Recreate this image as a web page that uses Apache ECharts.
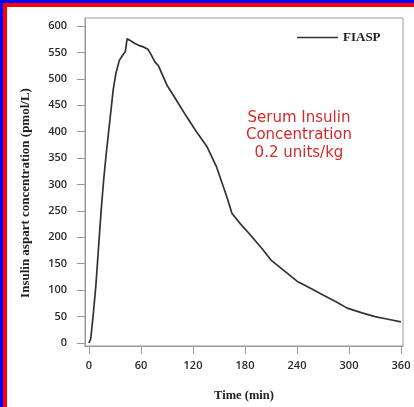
<!DOCTYPE html>
<html>
<head>
<meta charset="utf-8">
<script src="https://cdn.jsdelivr.net/npm/echarts@6/dist/echarts.min.js"></script>
<style>
html,body{margin:0;padding:0;background:#fff;}
#chart{position:absolute;left:0;top:0;width:414px;height:407px;}
.b{position:absolute;pointer-events:none;}
</style>
</head>
<body>
<div id="chart"></div>
<div class="b" style="left:0;top:0;width:414px;height:3px;background:#0000ff"></div>
<div class="b" style="left:0;top:0;width:3px;height:407px;background:#0000ff"></div>
<div class="b" style="left:3px;top:3px;width:411px;height:4px;background:#ff0000"></div>
<div class="b" style="left:3px;top:3px;width:4px;height:404px;background:#ff0000"></div>
<script>
// Data
const seriesName = 'FIASP';
const timeMin = [0, 2, 5, 8, 11, 14, 17, 20, 24, 28, 31, 35, 39, 42, 44, 48, 53, 58, 62, 68, 72, 76, 80, 90, 100, 112, 124, 136, 147, 159, 165, 175, 186, 200, 210, 225, 240, 255, 270, 285, 298, 315, 330, 345, 360];
const insulin = [0, 8, 55, 110, 180, 250, 310, 360, 420, 480, 510, 535, 545, 552, 576, 572, 567, 563, 561, 556, 545, 532, 525, 488, 462, 430, 400, 372, 334, 277, 245, 225, 205, 178, 157, 137, 117, 104, 91, 78, 66, 57, 50, 45, 40];
const xTicks = [0, 60, 120, 180, 240, 300, 360];
const yTicks = [0, 50, 100, 150, 200, 250, 300, 350, 400, 450, 500, 550, 600];
const xTitle = 'Time (min)';
const yTitle = 'Insulin aspart concentration (pmol/L)';
const noteLines = ['Serum Insulin', 'Concentration', '0.2 units/kg'];

const chart = echarts.init(document.getElementById('chart'), null, {renderer: 'canvas'});
const frameColor = '#9a9a9a';
const labelFont = {fontFamily: 'Open Sans', fontSize: 11, fontWeight: 600, color: '#2a2a2a'};
chart.setOption({
  animation: false,
  backgroundColor: '#fff',
  grid: {left: 85, right: 11, top: 18, bottom: 61, show: true, borderColor: frameColor, borderWidth: 1, outerBoundsMode: 'none', containLabel: false},
  legend: {
    data: [seriesName], left: 297, top: 31, padding: 0, icon: 'rect', itemWidth: 41, itemHeight: 1.6,
    textStyle: {fontFamily: 'Liberation Serif', fontWeight: 'bold', fontSize: 13, color: '#222'}
  },
  xAxis: {
    type: 'value', min: -4.6, max: 362.3,
    name: xTitle, nameLocation: 'middle', nameGap: 43,
    nameTextStyle: {fontFamily: 'Liberation Serif', fontWeight: 'bold', fontSize: 12.5, color: '#222'},
    axisLine: {show: true, onZero: false, lineStyle: {color: frameColor, width: 1}},
    axisTick: {show: true, length: 8, customValues: xTicks, lineStyle: {color: frameColor}},
    axisLabel: Object.assign({customValues: xTicks, margin: 14}, labelFont),
    splitLine: {show: false}
  },
  yAxis: {
    type: 'value', min: -5.7, max: 615.2,
    name: yTitle, nameLocation: 'middle', nameGap: 53, nameRotate: 90,
    nameTextStyle: {fontFamily: 'Liberation Serif', fontWeight: 'bold', fontSize: 13, color: '#222', padding: [0, 22, 0, 0]},
    axisLine: {show: true, onZero: false, lineStyle: {color: frameColor, width: 1}},
    axisTick: {show: true, length: 8, customValues: yTicks, lineStyle: {color: frameColor}},
    axisLabel: Object.assign({customValues: yTicks, margin: 18}, labelFont),
    splitLine: {show: false}
  },
  series: [{
    name: seriesName, type: 'line', symbol: 'none', showSymbol: false,
    data: timeMin.map((t, i) => [t, insulin[i]]),
    lineStyle: {color: '#333', width: 1.7}, itemStyle: {color: '#333'}
  }],
  graphic: [{
    type: 'text', x: 299, y: 109,
    style: {
      text: noteLines.join('\n'), align: 'center',
      font: '15px "DejaVu Sans"', fill: '#d42a2a', lineHeight: 17.5
    }
  }]
});
</script>
</body>
</html>
